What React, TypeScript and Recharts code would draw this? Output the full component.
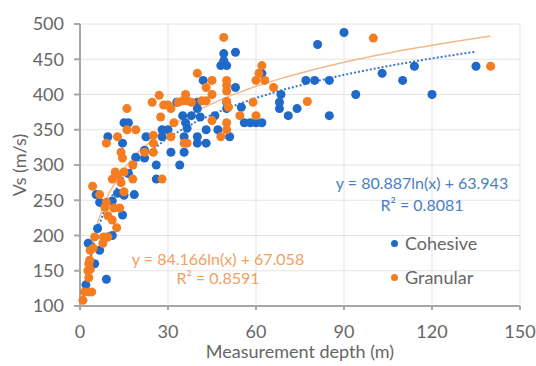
import React from 'react';
import {
  ScatterChart,
  Scatter,
  XAxis,
  YAxis,
  ZAxis,
  CartesianGrid,
} from 'recharts';

/* ---------------------------------------
   DATA  [depth (m), Vs (m/s)]
---------------------------------------- */
const cohesivePoints: [number, number][] = [
  [2, 130], [9, 138], [5, 160], [6.7, 179], [2.8, 189], [9.5, 198], [11, 200],
  [6, 210], [14.5, 229], [11, 249], [6.7, 247], [5.5, 258], [12.8, 260], [15, 257],
  [18.5, 258], [16.5, 288], [26, 280], [19, 311], [22, 321], [22, 310], [26, 300],
  [34, 300], [31, 318], [35.5, 318], [9.5, 340], [14.5, 331], [15, 360], [16.5, 360],
  [22.5, 340], [28, 340], [28, 350], [30, 350], [35.5, 340], [36.5, 352], [40, 340],
  [40, 331], [43, 331], [43, 350], [47, 350], [51, 340], [35, 370], [38, 370],
  [36, 360], [41, 368], [46, 370], [40, 380], [40, 389], [33, 389], [50, 389],
  [50, 380], [55, 382], [56, 360], [58, 360], [60, 360], [62, 360], [42, 420],
  [53, 410], [48, 441], [50, 441], [49, 448], [49, 458], [53, 460], [62, 430],
  [68.5, 400], [68, 389], [68, 380], [71, 370], [74, 380], [77, 420], [80, 420],
  [81, 471], [85, 420], [85, 370], [90, 488], [94, 400], [103, 430], [110, 420],
  [114, 440], [120, 400], [135, 440],
];

const granularPoints: [number, number][] = [
  [1, 108], [1.5, 120], [3, 120], [4, 120], [3, 140], [2.7, 150], [3.5, 152],
  [3, 160], [3.3, 165], [3.5, 179], [4.5, 182], [5, 198], [7.8, 189], [8, 198],
  [9.5, 198], [12.5, 211], [9.5, 228], [11, 222], [8.5, 240], [9, 247], [11.5, 239],
  [13.5, 239], [6.7, 258], [4.3, 270], [15, 262], [14, 275], [13, 285], [15, 290],
  [18, 280], [11, 280], [12, 290], [18, 300], [14, 318], [14.5, 310], [9, 331],
  [12.8, 340], [16, 350], [19, 350], [16, 380], [22, 318], [25, 318], [25, 331],
  [25, 342], [28, 280], [24.6, 389], [27, 399], [28.5, 385], [30, 385], [27.5, 368],
  [31, 340], [32, 360], [31, 380], [33.5, 389], [35, 391], [36, 400], [36.5, 391],
  [38, 389], [35.5, 331], [36.5, 331], [40, 430], [41.5, 391], [43, 391], [43, 410],
  [45, 400], [45, 420], [45, 363], [48, 340], [50, 350], [50, 360], [50, 390],
  [50.6, 382], [50, 405], [50, 413], [50, 420], [49, 481], [54.5, 370], [60, 370],
  [59, 389], [60, 420], [61, 430], [62, 441], [63, 420], [66, 410], [77.5, 390],
  [100, 480], [140, 440],
];

// log trend lines
const cohesiveTrendDepth = [2, 4, 6, 8, 10, 15, 20, 30, 40, 50, 60, 70, 80, 90, 100, 110, 120, 130, 135];
const cohesiveTrendVs = [120, 176.1, 208.9, 232.1, 250.2, 283, 306.3, 339, 362.3, 380.4, 395.1, 407.6, 418.4, 427.9, 436.4, 444.1, 451.2, 457.7, 460.7];

const granularTrendDepth = [2, 4, 6, 8, 10, 15, 20, 30, 40, 50, 60, 70, 80, 90, 100, 110, 120, 130, 140];
const granularTrendVs = [125.4, 183.7, 217.9, 242.1, 260.9, 295, 319.2, 353.3, 377.5, 396.3, 411.7, 424.6, 435.9, 445.8, 454.7, 462.7, 470, 476.7, 483];

const xTicks = [0, 30, 60, 90, 120, 150];
const yTicks = [100, 150, 200, 250, 300, 350, 400, 450, 500];

const BLUE = '#1f69c9';
const ORANGE = '#f47d22';
const FONT = 'Lato, "Open Sans", sans-serif';
const AXIS_TEXT = { fill: '#666666', fontSize: 18, fontFamily: FONT };

const toPts = (pts: [number, number][]) => pts.map(([x, y]) => ({ x, y }));
const toLine = (xs: number[], ys: number[]) => xs.map((x, i) => ({ x, y: ys[i] }));

const legendItems = [
  { name: 'Cohesive', color: BLUE },
  { name: 'Granular', color: ORANGE },
];

export default function App() {
  return (
    <div style={{ position: 'absolute', left: 0, top: 0, width: 536, height: 366, background: '#fff' }}>
      <ScatterChart
        width={536}
        height={366}
        margin={{ top: 24, right: 16, bottom: 0, left: 0 }}
      >
        <CartesianGrid stroke="#e4e4e4" strokeWidth={1} />
        <XAxis
          type="number"
          dataKey="x"
          domain={[0, 150]}
          ticks={xTicks}
          height={60}
          stroke="#a6a6a6"
          strokeWidth={2}
          tickSize={4}
          tickMargin={15}
          tick={AXIS_TEXT}
          label={{
            value: 'Measurement depth (m)',
            position: 'insideBottom',
            offset: 8,
            style: AXIS_TEXT,
          }}
        />
        <YAxis
          type="number"
          dataKey="y"
          domain={[100, 500]}
          ticks={yTicks}
          width={80}
          stroke="#a6a6a6"
          strokeWidth={2}
          tickSize={6}
          tickMargin={10}
          tick={AXIS_TEXT}
          label={{
            value: 'Vs (m/s)',
            angle: -90,
            position: 'insideLeft',
            offset: 20,
            style: { ...AXIS_TEXT, textAnchor: 'middle' },
          }}
        />
        <ZAxis range={[46, 46]} />
        {/* trend lines sit under the markers */}
        <Scatter
          data={toLine(granularTrendDepth, granularTrendVs)}
          line={{ stroke: '#f5b88a', strokeWidth: 1.5 }}
          lineType="joint"
          shape={() => null}
          legendType="none"
          isAnimationActive={false}
        />
        <Scatter
          data={toLine(cohesiveTrendDepth, cohesiveTrendVs)}
          line={{ stroke: '#3a78c9', strokeWidth: 2, strokeDasharray: '2 2' }}
          lineType="joint"
          shape={() => null}
          legendType="none"
          isAnimationActive={false}
        />
        <Scatter
          name="Cohesive"
          data={toPts(cohesivePoints)}
          fill={BLUE}
          isAnimationActive={false}
        />
        <Scatter
          name="Granular"
          data={toPts(granularPoints)}
          fill={ORANGE}
          isAnimationActive={false}
        />
      </ScatterChart>

      {/* legend */}
      <div style={{ position: 'absolute', left: 391, top: 226, fontFamily: FONT, fontSize: 18, color: '#666666' }}>
        {legendItems.map((it) => (
          <div key={it.name} style={{ display: 'flex', alignItems: 'center', height: 34 }}>
            <span style={{ width: 7, height: 7, borderRadius: '50%', background: it.color, marginRight: 7 }} />
            {it.name}
          </div>
        ))}
      </div>

      {/* trend equations */}
      <div style={{ position: 'absolute', left: 300, top: 172, width: 244, textAlign: 'center', fontFamily: FONT, fontSize: 16, color: '#4a7fc4', lineHeight: '22px' }}>
        y = 80.887ln(x) + 63.943
        <br />
        R² = 0.8081
      </div>
      <div style={{ position: 'absolute', left: 96, top: 249, width: 244, textAlign: 'center', fontFamily: FONT, fontSize: 16, color: '#f2a060', lineHeight: '19px' }}>
        y = 84.166ln(x) + 67.058
        <br />
        R² = 0.8591
      </div>
    </div>
  );
}
